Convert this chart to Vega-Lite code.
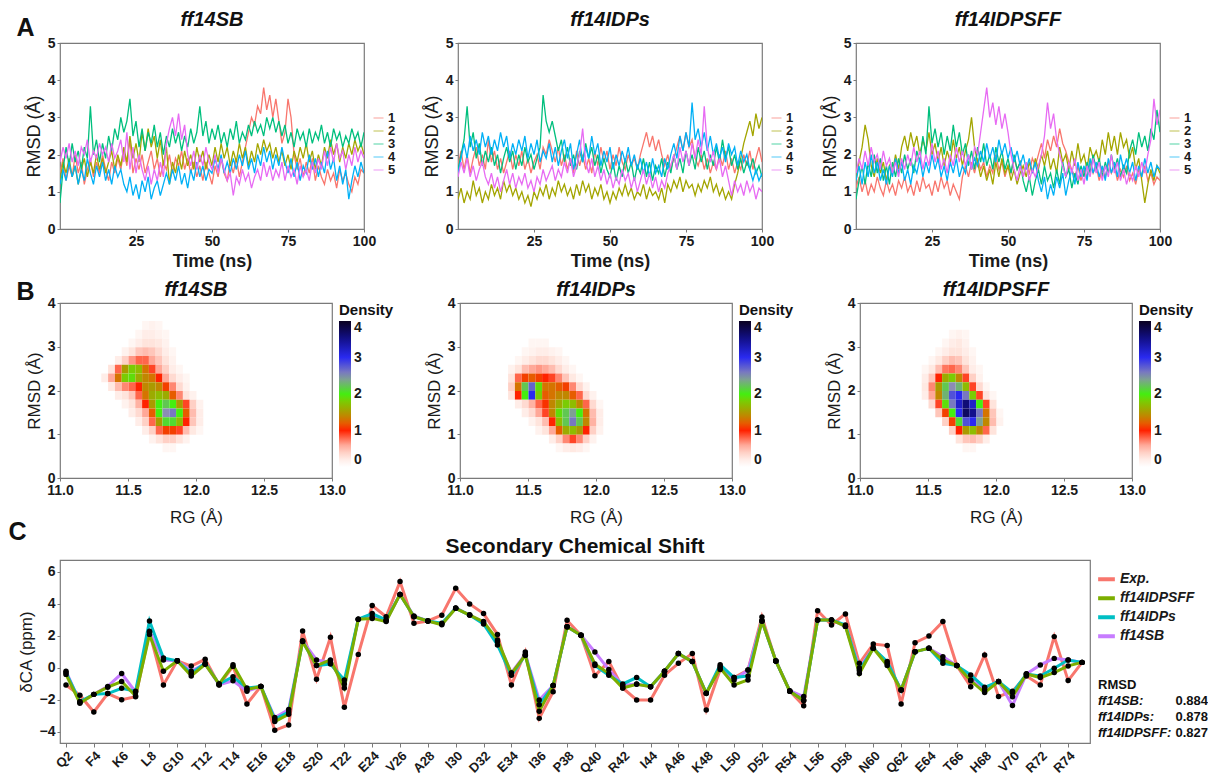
{
"$schema":"https://vega.github.io/schema/vega-lite/v6.json",
"background":"white",
"padding":{"left":8,"top":9,"right":0,"bottom":0},
"config":{
 "font":"Liberation Sans",
 "view":{"stroke":"#7a7a7a","strokeWidth":1.2},
 "axis":{"grid":false,"domain":false,"ticks":true,"tickSize":3,"tickColor":"#7a7a7a","labelFontSize":14,"labelFontWeight":"bold","labelColor":"#1a1a1a","labelPadding":2,"labelFlush":false,"titleFontSize":18,"titleFontWeight":"normal","titleColor":"#1a1a1a","titlePadding":4},
 "title":{"fontSize":20,"fontWeight":"bold","fontStyle":"italic","color":"#111111","offset":6},
 "legend":{"labelColor":"#1a1a1a","titleColor":"#111111"}
},
"datasets":{
"a1":[
{"t":0,"1":1.5,"2":1.3,"3":0.7,"4":1.2,"5":1.8},{"t":1,"1":1.9,"2":1.8,"3":1.6,"4":1.6,"5":2.2},{"t":2,"1":1.3,"2":1.5,"3":2.2,"4":1.3,"5":1.9},{"t":3,"1":1.7,"2":1.9,"3":1.7,"4":1.8,"5":2.3},{"t":4,"1":1.4,"2":1.4,"3":2.3,"4":1.4,"5":1.8},{"t":5,"1":2.0,"2":1.7,"3":1.8,"4":1.7,"5":2.1},{"t":6,"1":1.5,"2":1.2,"3":2.1,"4":1.2,"5":1.7},{"t":7,"1":1.8,"2":1.6,"3":1.6,"4":1.6,"5":2.2},{"t":8,"1":1.2,"2":1.9,"3":2.2,"4":1.3,"5":2.0},{"t":9,"1":1.6,"2":1.4,"3":1.9,"4":1.9,"5":2.4},
{"t":10,"1":1.9,"2":1.8,"3":3.3,"4":1.5,"5":1.8},{"t":11,"1":1.4,"2":1.5,"3":2.0,"4":1.2,"5":2.1},{"t":12,"1":1.8,"2":2.0,"3":2.4,"4":1.7,"5":1.9},{"t":13,"1":1.5,"2":1.6,"3":1.8,"4":1.4,"5":2.3},{"t":14,"1":2.0,"2":1.9,"3":2.3,"4":1.8,"5":2.0},{"t":15,"1":1.6,"2":1.5,"3":1.9,"4":1.3,"5":2.2},{"t":16,"1":1.3,"2":1.8,"3":2.5,"4":1.6,"5":1.8},{"t":17,"1":1.8,"2":2.1,"3":2.1,"4":1.2,"5":2.3},{"t":18,"1":1.5,"2":1.6,"3":2.7,"4":1.7,"5":1.9},{"t":19,"1":1.9,"2":2.0,"3":2.4,"4":1.4,"5":2.1},
{"t":20,"1":1.6,"2":1.7,"3":3.0,"4":1.6,"5":2.4},{"t":21,"1":2.1,"2":2.2,"3":2.6,"4":1.2,"5":1.8},{"t":22,"1":1.7,"2":1.8,"3":2.9,"4":1.0,"5":2.6},{"t":23,"1":2.4,"2":2.5,"3":3.5,"4":1.4,"5":1.6},{"t":24,"1":1.5,"2":1.9,"3":2.5,"4":0.9,"5":2.2},{"t":25,"1":1.9,"2":2.3,"3":2.9,"4":1.2,"5":1.5},{"t":26,"1":1.6,"2":1.8,"3":2.2,"4":0.8,"5":2.0},{"t":27,"1":2.0,"2":2.6,"3":2.7,"4":1.3,"5":1.6},{"t":28,"1":1.5,"2":2.1,"3":2.1,"4":1.0,"5":1.3},{"t":29,"1":1.8,"2":2.7,"3":2.6,"4":1.4,"5":1.7},
{"t":30,"1":2.1,"2":2.2,"3":2.3,"4":0.8,"5":1.2},{"t":31,"1":1.6,"2":2.5,"3":2.8,"4":1.1,"5":1.6},{"t":32,"1":1.9,"2":1.9,"3":2.2,"4":1.3,"5":1.3},{"t":33,"1":1.4,"2":2.4,"3":2.6,"4":0.9,"5":1.8},{"t":34,"1":1.8,"2":1.7,"3":2.0,"4":1.2,"5":1.4},{"t":35,"1":1.6,"2":2.2,"3":2.5,"4":1.5,"5":2.3},{"t":36,"1":2.0,"2":1.2,"3":2.2,"4":1.2,"5":2.7},{"t":37,"1":1.5,"2":1.8,"3":2.7,"4":1.6,"5":3.0},{"t":38,"1":1.9,"2":1.5,"3":2.3,"4":1.3,"5":2.5},{"t":39,"1":1.7,"2":2.0,"3":2.6,"4":1.7,"5":3.1},
{"t":40,"1":2.1,"2":1.6,"3":2.1,"4":1.2,"5":2.4},{"t":41,"1":1.6,"2":2.1,"3":2.5,"4":1.5,"5":2.8},{"t":42,"1":1.9,"2":1.7,"3":2.2,"4":1.1,"5":2.0},{"t":43,"1":1.5,"2":2.0,"3":2.7,"4":1.6,"5":1.7},{"t":44,"1":1.8,"2":1.6,"3":2.3,"4":1.3,"5":2.1},{"t":45,"1":1.4,"2":2.2,"3":2.6,"4":1.8,"5":1.6},{"t":46,"1":1.7,"2":1.8,"3":3.3,"4":1.4,"5":2.0},{"t":47,"1":1.3,"2":2.1,"3":2.5,"4":1.7,"5":1.7},{"t":48,"1":1.8,"2":1.6,"3":2.9,"4":1.3,"5":2.2},{"t":49,"1":1.5,"2":2.0,"3":2.3,"4":1.6,"5":1.8},
{"t":50,"1":1.2,"2":1.7,"3":2.7,"4":1.5,"5":1.6},{"t":51,"1":1.7,"2":2.2,"3":2.4,"4":1.9,"5":2.0},{"t":52,"1":1.4,"2":1.8,"3":2.8,"4":1.6,"5":1.5},{"t":53,"1":1.9,"2":2.3,"3":2.3,"4":2.0,"5":1.9},{"t":54,"1":1.5,"2":1.9,"3":2.6,"4":1.5,"5":1.6},{"t":55,"1":1.3,"2":2.2,"3":2.2,"4":1.8,"5":1.3},{"t":56,"1":1.8,"2":1.7,"3":2.7,"4":1.5,"5":1.5},{"t":57,"1":1.5,"2":2.1,"3":2.4,"4":1.9,"5":0.9},{"t":58,"1":1.9,"2":1.8,"3":2.9,"4":1.6,"5":1.4},{"t":59,"1":1.4,"2":2.3,"3":2.3,"4":2.0,"5":1.2},
{"t":60,"1":1.8,"2":1.9,"3":2.6,"4":1.7,"5":1.6},{"t":61,"1":2.2,"2":2.2,"3":2.4,"4":2.1,"5":1.3},{"t":62,"1":2.6,"2":1.7,"3":2.8,"4":1.6,"5":1.5},{"t":63,"1":3.0,"2":2.1,"3":2.5,"4":1.9,"5":1.1},{"t":64,"1":2.8,"2":1.8,"3":2.9,"4":1.5,"5":1.4},{"t":65,"1":3.3,"2":2.3,"3":2.6,"4":2.0,"5":1.6},{"t":66,"1":3.1,"2":2.0,"3":2.8,"4":1.7,"5":1.3},{"t":67,"1":3.8,"2":2.4,"3":2.5,"4":2.2,"5":1.8},{"t":68,"1":3.2,"2":2.1,"3":3.0,"4":1.8,"5":1.4},{"t":69,"1":3.6,"2":2.3,"3":2.7,"4":2.1,"5":1.7},
{"t":70,"1":3.0,"2":1.9,"3":3.0,"4":1.6,"5":1.3},{"t":71,"1":3.5,"2":2.2,"3":2.6,"4":2.0,"5":1.6},{"t":72,"1":2.9,"2":1.8,"3":2.9,"4":1.7,"5":1.4},{"t":73,"1":2.3,"2":2.1,"3":2.5,"4":2.2,"5":1.8},{"t":74,"1":2.6,"2":1.7,"3":2.8,"4":1.8,"5":1.3},{"t":75,"1":3.5,"2":2.0,"3":2.3,"4":1.5,"5":1.7},{"t":76,"1":3.0,"2":1.6,"3":2.6,"4":1.9,"5":1.4},{"t":77,"1":2.0,"2":2.1,"3":2.2,"4":1.4,"5":1.6},{"t":78,"1":1.6,"2":1.8,"3":2.7,"4":1.8,"5":1.2},{"t":79,"1":1.9,"2":2.2,"3":2.4,"4":1.3,"5":1.7},
{"t":80,"1":1.4,"2":1.9,"3":2.6,"4":1.7,"5":1.4},{"t":81,"1":1.8,"2":2.3,"3":2.2,"4":1.5,"5":1.6},{"t":82,"1":1.5,"2":1.8,"3":2.7,"4":2.0,"5":1.3},{"t":83,"1":1.9,"2":2.1,"3":2.3,"4":1.6,"5":1.8},{"t":84,"1":1.3,"2":1.6,"3":2.6,"4":1.9,"5":1.5},{"t":85,"1":1.7,"2":2.0,"3":2.4,"4":1.4,"5":1.9},{"t":86,"1":1.4,"2":1.7,"3":2.8,"4":1.8,"5":1.6},{"t":87,"1":1.2,"2":2.2,"3":2.3,"4":1.5,"5":2.1},{"t":88,"1":1.6,"2":1.9,"3":2.6,"4":2.1,"5":1.7},{"t":89,"1":1.3,"2":2.4,"3":2.2,"4":1.6,"5":2.2},
{"t":90,"1":1.5,"2":2.0,"3":2.7,"4":1.9,"5":1.8},{"t":91,"1":1.1,"2":2.3,"3":2.4,"4":1.3,"5":2.3},{"t":92,"1":1.6,"2":1.8,"3":2.6,"4":1.7,"5":1.9},{"t":93,"1":1.3,"2":2.2,"3":2.2,"4":1.2,"5":2.1},{"t":94,"1":1.5,"2":1.9,"3":2.5,"4":1.6,"5":1.6},{"t":95,"1":1.2,"2":2.3,"3":2.3,"4":0.8,"5":2.0},{"t":96,"1":1.0,"2":2.0,"3":2.7,"4":1.3,"5":1.7},{"t":97,"1":1.4,"2":2.4,"3":2.4,"4":1.7,"5":2.2},{"t":98,"1":1.2,"2":2.1,"3":2.6,"4":1.4,"5":1.8},{"t":99,"1":1.6,"2":2.3,"3":2.2,"4":1.8,"5":2.1},{"t":100,"1":1.5,"2":2.0,"3":2.6,"4":1.5,"5":1.9}
],
"a2":[
{"t":0,"1":1.7,"2":0.8,"3":1.6,"4":1.5,"5":1.4},{"t":1,"1":2.1,"2":1.1,"3":2.0,"4":1.9,"5":1.8},{"t":2,"1":1.6,"2":0.7,"3":2.4,"4":2.3,"5":1.5},{"t":3,"1":2.0,"2":1.0,"3":3.3,"4":1.9,"5":1.9},{"t":4,"1":1.5,"2":0.8,"3":2.2,"4":2.5,"5":1.4},{"t":5,"1":1.9,"2":1.3,"3":2.6,"4":2.1,"5":1.7},{"t":6,"1":2.2,"2":0.9,"3":1.9,"4":2.4,"5":1.3},{"t":7,"1":1.7,"2":1.1,"3":2.3,"4":2.0,"5":1.6},{"t":8,"1":2.0,"2":0.7,"3":1.7,"4":2.6,"5":1.8},{"t":9,"1":1.6,"2":1.0,"3":2.1,"4":2.2,"5":1.4},
{"t":10,"1":2.4,"2":0.8,"3":1.8,"4":2.5,"5":1.2},{"t":11,"1":1.8,"2":1.2,"3":2.2,"4":2.0,"5":1.5},{"t":12,"1":2.1,"2":0.9,"3":1.7,"4":2.4,"5":1.1},{"t":13,"1":1.6,"2":1.1,"3":2.0,"4":2.1,"5":1.4},{"t":14,"1":1.9,"2":0.8,"3":1.5,"4":2.6,"5":1.0},{"t":15,"1":1.5,"2":1.3,"3":1.9,"4":2.2,"5":1.3},{"t":16,"1":1.8,"2":1.0,"3":2.2,"4":2.5,"5":1.6},{"t":17,"1":2.1,"2":1.2,"3":1.8,"4":1.9,"5":1.2},{"t":18,"1":1.6,"2":0.9,"3":2.1,"4":2.3,"5":1.5},{"t":19,"1":2.0,"2":1.1,"3":1.6,"4":2.0,"5":1.1},
{"t":20,"1":1.7,"2":0.8,"3":2.0,"4":2.4,"5":1.4},{"t":21,"1":2.1,"2":1.0,"3":1.7,"4":2.1,"5":1.2},{"t":22,"1":1.6,"2":0.7,"3":2.2,"4":2.5,"5":1.5},{"t":23,"1":1.9,"2":0.9,"3":1.8,"4":1.9,"5":1.1},{"t":24,"1":1.5,"2":0.6,"3":2.0,"4":2.3,"5":1.3},{"t":25,"1":1.8,"2":1.0,"3":1.6,"4":2.0,"5":1.0},{"t":26,"1":2.0,"2":0.8,"3":1.9,"4":2.4,"5":1.4},{"t":27,"1":1.6,"2":1.1,"3":2.2,"4":1.8,"5":1.2},{"t":28,"1":2.2,"2":0.9,"3":3.6,"4":2.1,"5":1.6},{"t":29,"1":2.0,"2":1.2,"3":2.9,"4":1.9,"5":1.3},
{"t":30,"1":2.4,"2":0.8,"3":2.6,"4":2.3,"5":1.5},{"t":31,"1":2.1,"2":1.1,"3":2.9,"4":1.8,"5":1.7},{"t":32,"1":1.8,"2":0.9,"3":2.5,"4":2.2,"5":1.3},{"t":33,"1":2.2,"2":1.3,"3":2.1,"4":1.7,"5":1.6},{"t":34,"1":1.7,"2":1.0,"3":2.4,"4":2.1,"5":1.4},{"t":35,"1":2.0,"2":1.2,"3":1.8,"4":2.4,"5":1.8},{"t":36,"1":1.6,"2":0.9,"3":2.2,"4":1.9,"5":1.5},{"t":37,"1":1.9,"2":1.1,"3":1.7,"4":2.3,"5":1.9},{"t":38,"1":1.5,"2":0.8,"3":2.0,"4":1.6,"5":1.4},{"t":39,"1":2.1,"2":1.2,"3":1.6,"4":2.0,"5":1.7},
{"t":40,"1":1.7,"2":0.9,"3":2.1,"4":2.4,"5":2.0},{"t":41,"1":2.0,"2":1.3,"3":1.8,"4":1.8,"5":2.7},{"t":42,"1":1.6,"2":1.0,"3":2.3,"4":2.2,"5":1.8},{"t":43,"1":1.9,"2":1.2,"3":1.9,"4":1.9,"5":1.5},{"t":44,"1":1.5,"2":0.8,"3":2.2,"4":2.5,"5":1.9},{"t":45,"1":2.1,"2":1.1,"3":1.7,"4":2.0,"5":1.4},{"t":46,"1":1.7,"2":0.9,"3":2.0,"4":2.3,"5":1.7},{"t":47,"1":2.2,"2":1.2,"3":1.5,"4":1.7,"5":1.3},{"t":48,"1":1.8,"2":0.8,"3":1.9,"4":2.1,"5":1.6},{"t":49,"1":2.1,"2":1.0,"3":1.6,"4":1.8,"5":1.2},
{"t":50,"1":1.6,"2":0.7,"3":1.4,"4":2.2,"5":1.5},{"t":51,"1":2.0,"2":1.0,"3":1.8,"4":1.6,"5":1.1},{"t":52,"1":1.7,"2":0.8,"3":1.3,"4":2.0,"5":1.4},{"t":53,"1":2.2,"2":1.1,"3":1.7,"4":1.7,"5":1.2},{"t":54,"1":1.8,"2":0.9,"3":1.4,"4":2.1,"5":1.6},{"t":55,"1":1.6,"2":1.2,"3":1.9,"4":1.8,"5":1.3},{"t":56,"1":2.0,"2":0.9,"3":1.5,"4":2.2,"5":1.5},{"t":57,"1":1.7,"2":1.1,"3":1.8,"4":1.7,"5":1.1},{"t":58,"1":1.9,"2":0.8,"3":1.3,"4":2.0,"5":1.4},{"t":59,"1":1.6,"2":1.0,"3":1.7,"4":1.6,"5":1.0},
{"t":60,"1":2.0,"2":0.9,"3":1.5,"4":1.9,"5":1.3},{"t":61,"1":2.3,"2":1.2,"3":1.9,"4":1.5,"5":1.6},{"t":62,"1":2.6,"2":0.8,"3":1.4,"4":1.8,"5":1.2},{"t":63,"1":2.2,"2":1.1,"3":1.8,"4":1.4,"5":1.5},{"t":64,"1":2.5,"2":0.9,"3":1.3,"4":1.9,"5":1.1},{"t":65,"1":2.1,"2":1.0,"3":1.7,"4":1.5,"5":1.4},{"t":66,"1":2.4,"2":0.8,"3":1.5,"4":1.7,"5":1.0},{"t":67,"1":2.0,"2":1.1,"3":1.9,"4":1.4,"5":1.3},{"t":68,"1":1.7,"2":0.7,"3":1.4,"4":1.9,"5":1.1},{"t":69,"1":2.0,"2":1.2,"3":1.8,"4":1.6,"5":1.5},
{"t":70,"1":1.6,"2":1.0,"3":1.5,"4":2.0,"5":1.7},{"t":71,"1":1.9,"2":1.3,"3":2.0,"4":2.3,"5":2.0},{"t":72,"1":2.2,"2":1.1,"3":1.6,"4":1.9,"5":1.6},{"t":73,"1":2.5,"2":1.4,"3":1.9,"4":2.5,"5":2.2},{"t":74,"1":2.1,"2":1.0,"3":1.5,"4":2.1,"5":1.8},{"t":75,"1":2.6,"2":1.3,"3":2.1,"4":2.6,"5":2.1},{"t":76,"1":2.2,"2":1.1,"3":1.7,"4":2.2,"5":1.7},{"t":77,"1":2.4,"2":1.2,"3":2.0,"4":3.4,"5":2.3},{"t":78,"1":1.9,"2":0.9,"3":1.6,"4":2.4,"5":1.9},{"t":79,"1":1.7,"2":1.2,"3":2.2,"4":2.7,"5":2.4},
{"t":80,"1":2.0,"2":1.0,"3":1.8,"4":2.2,"5":2.0},{"t":81,"1":1.6,"2":1.3,"3":2.1,"4":2.6,"5":3.3},{"t":82,"1":1.9,"2":1.1,"3":1.6,"4":2.1,"5":2.2},{"t":83,"1":1.5,"2":1.4,"3":2.0,"4":2.5,"5":1.8},{"t":84,"1":1.8,"2":1.0,"3":1.7,"4":2.0,"5":2.1},{"t":85,"1":1.6,"2":1.2,"3":2.2,"4":2.3,"5":1.6},{"t":86,"1":2.0,"2":0.9,"3":1.8,"4":1.9,"5":1.9},{"t":87,"1":1.7,"2":1.1,"3":2.4,"4":2.2,"5":1.4},{"t":88,"1":2.1,"2":0.8,"3":1.9,"4":1.8,"5":1.7},{"t":89,"1":1.6,"2":1.0,"3":2.2,"4":2.3,"5":1.3},
{"t":90,"1":1.9,"2":0.8,"3":1.7,"4":2.0,"5":0.9},{"t":91,"1":1.5,"2":1.2,"3":2.0,"4":2.2,"5":1.3},{"t":92,"1":1.8,"2":1.5,"3":1.6,"4":1.7,"5":1.0},{"t":93,"1":1.6,"2":1.9,"3":1.9,"4":2.1,"5":1.2},{"t":94,"1":2.0,"2":2.3,"3":1.5,"4":1.8,"5":0.9},{"t":95,"1":1.7,"2":2.6,"3":1.8,"4":2.0,"5":1.3},{"t":96,"1":2.1,"2":2.9,"3":1.6,"4":1.6,"5":1.0},{"t":97,"1":1.6,"2":2.5,"3":1.9,"4":1.3,"5":1.2},{"t":98,"1":1.9,"2":3.1,"3":1.5,"4":1.6,"5":0.8},{"t":99,"1":2.2,"2":2.7,"3":1.7,"4":1.3,"5":1.1},{"t":100,"1":1.8,"2":3.0,"3":1.4,"4":1.5,"5":1.0}
],
"a3":[
{"t":0,"1":1.1,"2":1.3,"3":0.8,"4":1.3,"5":1.5},{"t":1,"1":1.4,"2":1.8,"3":1.3,"4":1.7,"5":1.9},{"t":2,"1":1.0,"2":2.2,"3":1.7,"4":1.2,"5":1.6},{"t":3,"1":1.3,"2":2.8,"3":1.2,"4":1.8,"5":2.1},{"t":4,"1":0.9,"2":2.4,"3":1.8,"4":1.4,"5":1.7},{"t":5,"1":1.2,"2":1.7,"3":1.4,"4":2.0,"5":2.2},{"t":6,"1":1.0,"2":1.4,"3":2.0,"4":1.5,"5":1.8},{"t":7,"1":1.4,"2":1.9,"3":1.5,"4":1.8,"5":2.0},{"t":8,"1":1.1,"2":1.5,"3":1.9,"4":1.3,"5":1.6},{"t":9,"1":0.9,"2":1.8,"3":1.3,"4":1.6,"5":2.1},
{"t":10,"1":1.3,"2":1.3,"3":1.7,"4":1.2,"5":1.7},{"t":11,"1":1.0,"2":1.7,"3":1.2,"4":1.7,"5":1.9},{"t":12,"1":1.2,"2":1.5,"3":1.8,"4":1.4,"5":1.5},{"t":13,"1":0.9,"2":2.0,"3":1.4,"4":1.9,"5":1.8},{"t":14,"1":1.3,"2":1.6,"3":1.9,"4":1.5,"5":1.4},{"t":15,"1":1.1,"2":2.2,"3":1.5,"4":1.8,"5":1.9},{"t":16,"1":1.4,"2":2.5,"3":2.0,"4":1.3,"5":1.6},{"t":17,"1":1.0,"2":2.1,"3":1.6,"4":1.6,"5":2.0},{"t":18,"1":1.2,"2":2.6,"3":1.9,"4":1.2,"5":1.7},{"t":19,"1":0.9,"2":2.2,"3":1.5,"4":1.7,"5":2.2},
{"t":20,"1":1.3,"2":2.5,"3":2.1,"4":1.5,"5":1.8},{"t":21,"1":1.0,"2":2.0,"3":1.8,"4":1.9,"5":2.1},{"t":22,"1":1.4,"2":2.4,"3":2.5,"4":1.4,"5":1.6},{"t":23,"1":1.1,"2":2.1,"3":2.0,"4":1.8,"5":2.0},{"t":24,"1":1.2,"2":2.6,"3":3.3,"4":1.5,"5":1.7},{"t":25,"1":0.9,"2":2.0,"3":2.3,"4":2.0,"5":2.3},{"t":26,"1":1.3,"2":2.3,"3":2.7,"4":1.6,"5":1.8},{"t":27,"1":1.0,"2":1.8,"3":2.2,"4":1.9,"5":2.1},{"t":28,"1":1.4,"2":2.2,"3":2.6,"4":1.4,"5":1.6},{"t":29,"1":1.1,"2":1.7,"3":2.0,"4":1.7,"5":1.9},
{"t":30,"1":1.3,"2":2.1,"3":2.5,"4":1.3,"5":1.5},{"t":31,"1":0.9,"2":1.8,"3":2.1,"4":1.8,"5":2.0},{"t":32,"1":1.2,"2":2.4,"3":2.8,"4":1.5,"5":1.7},{"t":33,"1":1.0,"2":1.9,"3":2.2,"4":1.9,"5":2.2},{"t":34,"1":0.8,"2":2.2,"3":2.6,"4":1.4,"5":1.8},{"t":35,"1":1.4,"2":1.7,"3":2.0,"4":1.7,"5":2.1},{"t":36,"1":1.7,"2":2.1,"3":2.3,"4":1.5,"5":1.7},{"t":37,"1":1.4,"2":2.4,"3":1.7,"4":2.0,"5":2.0},{"t":38,"1":1.8,"2":3.0,"3":2.1,"4":1.6,"5":1.6},{"t":39,"1":1.5,"2":2.2,"3":1.6,"4":1.9,"5":2.2},
{"t":40,"1":1.9,"2":1.8,"3":2.2,"4":1.7,"5":2.0},{"t":41,"1":1.6,"2":1.4,"3":1.8,"4":2.1,"5":2.6},{"t":42,"1":1.8,"2":1.7,"3":2.3,"4":1.8,"5":3.2},{"t":43,"1":1.4,"2":1.3,"3":1.7,"4":2.3,"5":3.8},{"t":44,"1":1.7,"2":1.6,"3":2.0,"4":1.9,"5":3.0},{"t":45,"1":1.5,"2":1.2,"3":1.6,"4":2.2,"5":3.4},{"t":46,"1":2.0,"2":1.8,"3":2.2,"4":1.8,"5":2.8},{"t":47,"1":1.6,"2":1.4,"3":1.8,"4":2.4,"5":3.3},{"t":48,"1":1.8,"2":1.9,"3":2.1,"4":2.0,"5":2.7},{"t":49,"1":1.4,"2":1.5,"3":1.6,"4":2.3,"5":3.1},
{"t":50,"1":1.7,"2":1.7,"3":1.9,"4":1.9,"5":2.6},{"t":51,"1":1.5,"2":1.3,"3":1.5,"4":2.2,"5":2.0},{"t":52,"1":1.9,"2":1.6,"3":2.0,"4":1.8,"5":1.6},{"t":53,"1":1.6,"2":1.2,"3":1.6,"4":2.1,"5":1.3},{"t":54,"1":1.8,"2":1.5,"3":1.8,"4":1.7,"5":1.7},{"t":55,"1":1.4,"2":1.7,"3":1.3,"4":2.0,"5":1.4},{"t":56,"1":1.7,"2":1.4,"3":1.0,"4":1.6,"5":1.8},{"t":57,"1":1.5,"2":1.8,"3":1.4,"4":1.9,"5":1.3},{"t":58,"1":1.9,"2":1.5,"3":0.9,"4":1.5,"5":1.6},{"t":59,"1":1.7,"2":1.9,"3":1.3,"4":1.8,"5":1.4},
{"t":60,"1":2.0,"2":1.6,"3":1.6,"4":1.3,"5":1.7},{"t":61,"1":2.3,"2":2.0,"3":1.2,"4":1.0,"5":2.0},{"t":62,"1":1.9,"2":1.7,"3":1.7,"4":1.4,"5":2.5},{"t":63,"1":2.4,"2":2.1,"3":1.3,"4":0.8,"5":3.4},{"t":64,"1":2.1,"2":1.6,"3":1.5,"4":1.2,"5":2.7},{"t":65,"1":2.5,"2":1.9,"3":1.1,"4":0.9,"5":3.1},{"t":66,"1":2.2,"2":1.5,"3":1.6,"4":1.4,"5":2.4},{"t":67,"1":2.7,"2":2.2,"3":1.2,"4":1.1,"5":2.0},{"t":68,"1":2.3,"2":1.8,"3":1.8,"4":1.5,"5":1.7},{"t":69,"1":2.1,"2":2.0,"3":1.4,"4":0.9,"5":1.4},
{"t":70,"1":1.8,"2":1.6,"3":1.6,"4":1.3,"5":1.8},{"t":71,"1":1.6,"2":2.1,"3":1.1,"4":1.6,"5":1.5},{"t":72,"1":1.4,"2":1.7,"3":1.5,"4":1.2,"5":1.9},{"t":73,"1":1.7,"2":2.3,"3":1.2,"4":1.8,"5":1.3},{"t":74,"1":1.3,"2":1.8,"3":1.7,"4":1.4,"5":1.6},{"t":75,"1":1.6,"2":2.0,"3":1.4,"4":1.7,"5":1.2},{"t":76,"1":1.4,"2":1.6,"3":1.8,"4":1.3,"5":1.7},{"t":77,"1":1.8,"2":2.2,"3":1.5,"4":1.9,"5":1.4},{"t":78,"1":1.5,"2":1.9,"3":2.0,"4":1.5,"5":1.9},{"t":79,"1":1.7,"2":2.1,"3":1.6,"4":1.8,"5":1.5},
{"t":80,"1":1.3,"2":1.8,"3":1.9,"4":1.4,"5":1.8},{"t":81,"1":1.6,"2":2.4,"3":1.4,"4":1.7,"5":1.3},{"t":82,"1":1.4,"2":2.0,"3":1.8,"4":1.3,"5":1.7},{"t":83,"1":1.8,"2":2.6,"3":1.5,"4":1.9,"5":1.4},{"t":84,"1":1.5,"2":2.1,"3":2.0,"4":1.5,"5":2.0},{"t":85,"1":1.7,"2":2.5,"3":1.6,"4":1.8,"5":1.5},{"t":86,"1":1.3,"2":2.0,"3":1.9,"4":1.4,"5":1.8},{"t":87,"1":1.6,"2":2.6,"3":1.4,"4":2.0,"5":1.3},{"t":88,"1":1.4,"2":2.2,"3":1.7,"4":1.6,"5":1.6},{"t":89,"1":1.7,"2":2.4,"3":1.5,"4":1.9,"5":1.2},
{"t":90,"1":1.3,"2":1.9,"3":2.1,"4":1.5,"5":1.5},{"t":91,"1":1.5,"2":2.2,"3":2.4,"4":1.8,"5":1.3},{"t":92,"1":1.2,"2":1.6,"3":2.0,"4":1.3,"5":1.7},{"t":93,"1":1.6,"2":1.9,"3":2.6,"4":1.7,"5":1.4},{"t":94,"1":1.4,"2":1.3,"3":2.2,"4":1.4,"5":1.8},{"t":95,"1":1.7,"2":0.7,"3":2.5,"4":1.9,"5":1.5},{"t":96,"1":1.3,"2":1.2,"3":2.1,"4":1.5,"5":2.0},{"t":97,"1":1.5,"2":1.6,"3":2.7,"4":1.8,"5":2.4},{"t":98,"1":1.2,"2":1.3,"3":2.4,"4":1.4,"5":3.5},{"t":99,"1":1.4,"2":1.7,"3":3.2,"4":1.7,"5":2.8},{"t":100,"1":1.3,"2":1.5,"3":2.6,"4":1.6,"5":3.2}
],
"b1":[
{"x":11.625,"y":3.5,"d":0.1},{"x":11.675,"y":3.5,"d":0.15},{"x":11.725,"y":3.5,"d":0.1},
{"x":11.575,"y":3.3,"d":0.1},{"x":11.625,"y":3.3,"d":0.2},{"x":11.675,"y":3.3,"d":0.2},{"x":11.725,"y":3.3,"d":0.15},{"x":11.775,"y":3.3,"d":0.1},
{"x":11.525,"y":3.1,"d":0.1},{"x":11.575,"y":3.1,"d":0.2},{"x":11.625,"y":3.1,"d":0.3},{"x":11.675,"y":3.1,"d":0.3},{"x":11.725,"y":3.1,"d":0.25},{"x":11.775,"y":3.1,"d":0.15},
{"x":11.475,"y":2.9,"d":0.15},{"x":11.525,"y":2.9,"d":0.3},{"x":11.575,"y":2.9,"d":0.45},{"x":11.625,"y":2.9,"d":0.5},{"x":11.675,"y":2.9,"d":0.45},{"x":11.725,"y":2.9,"d":0.35},{"x":11.775,"y":2.9,"d":0.2},{"x":11.825,"y":2.9,"d":0.1},
{"x":11.425,"y":2.7,"d":0.2},{"x":11.475,"y":2.7,"d":0.4},{"x":11.525,"y":2.7,"d":0.65},{"x":11.575,"y":2.7,"d":0.8},{"x":11.625,"y":2.7,"d":0.8},{"x":11.675,"y":2.7,"d":0.6},{"x":11.725,"y":2.7,"d":0.45},{"x":11.775,"y":2.7,"d":0.3},{"x":11.825,"y":2.7,"d":0.15},
{"x":11.375,"y":2.5,"d":0.3},{"x":11.425,"y":2.5,"d":0.8},{"x":11.475,"y":2.5,"d":1.5},{"x":11.525,"y":2.5,"d":1.8},{"x":11.575,"y":2.5,"d":1.7},{"x":11.625,"y":2.5,"d":1.3},{"x":11.675,"y":2.5,"d":0.9},{"x":11.725,"y":2.5,"d":0.6},{"x":11.775,"y":2.5,"d":0.4},{"x":11.825,"y":2.5,"d":0.2},{"x":11.875,"y":2.5,"d":0.1},
{"x":11.325,"y":2.3,"d":0.2},{"x":11.375,"y":2.3,"d":0.6},{"x":11.425,"y":2.3,"d":1.3},{"x":11.475,"y":2.3,"d":1.8},{"x":11.525,"y":2.3,"d":1.9},{"x":11.575,"y":2.3,"d":1.6},{"x":11.625,"y":2.3,"d":1.4},{"x":11.675,"y":2.3,"d":1.3},{"x":11.725,"y":2.3,"d":1.0},{"x":11.775,"y":2.3,"d":0.6},{"x":11.825,"y":2.3,"d":0.35},{"x":11.875,"y":2.3,"d":0.2},{"x":11.925,"y":2.3,"d":0.1},
{"x":11.375,"y":2.1,"d":0.25},{"x":11.425,"y":2.1,"d":0.5},{"x":11.475,"y":2.1,"d":0.7},{"x":11.525,"y":2.1,"d":0.8},{"x":11.575,"y":2.1,"d":1.0},{"x":11.625,"y":2.1,"d":1.4},{"x":11.675,"y":2.1,"d":1.5},{"x":11.725,"y":2.1,"d":1.4},{"x":11.775,"y":2.1,"d":1.1},{"x":11.825,"y":2.1,"d":0.7},{"x":11.875,"y":2.1,"d":0.35},{"x":11.925,"y":2.1,"d":0.15},
{"x":11.425,"y":1.9,"d":0.2},{"x":11.475,"y":1.9,"d":0.3},{"x":11.525,"y":1.9,"d":0.45},{"x":11.575,"y":1.9,"d":0.8},{"x":11.625,"y":1.9,"d":1.3},{"x":11.675,"y":1.9,"d":1.6},{"x":11.725,"y":1.9,"d":1.7},{"x":11.775,"y":1.9,"d":1.6},{"x":11.825,"y":1.9,"d":1.2},{"x":11.875,"y":1.9,"d":0.7},{"x":11.925,"y":1.9,"d":0.3},{"x":11.975,"y":1.9,"d":0.15},
{"x":11.475,"y":1.7,"d":0.15},{"x":11.525,"y":1.7,"d":0.3},{"x":11.575,"y":1.7,"d":0.55},{"x":11.625,"y":1.7,"d":1.0},{"x":11.675,"y":1.7,"d":1.5},{"x":11.725,"y":1.7,"d":2.0},{"x":11.775,"y":1.7,"d":2.2},{"x":11.825,"y":1.7,"d":2.0},{"x":11.875,"y":1.7,"d":1.5},{"x":11.925,"y":1.7,"d":0.9},{"x":11.975,"y":1.7,"d":0.4},{"x":12.025,"y":1.7,"d":0.15},
{"x":11.525,"y":1.5,"d":0.2},{"x":11.575,"y":1.5,"d":0.35},{"x":11.625,"y":1.5,"d":0.6},{"x":11.675,"y":1.5,"d":1.2},{"x":11.725,"y":1.5,"d":2.0},{"x":11.775,"y":1.5,"d":2.5},{"x":11.825,"y":1.5,"d":2.6},{"x":11.875,"y":1.5,"d":2.0},{"x":11.925,"y":1.5,"d":1.2},{"x":11.975,"y":1.5,"d":0.5},{"x":12.025,"y":1.5,"d":0.2},
{"x":11.575,"y":1.3,"d":0.2},{"x":11.625,"y":1.3,"d":0.4},{"x":11.675,"y":1.3,"d":0.8},{"x":11.725,"y":1.3,"d":1.5},{"x":11.775,"y":1.3,"d":2.1},{"x":11.825,"y":1.3,"d":2.1},{"x":11.875,"y":1.3,"d":1.7},{"x":11.925,"y":1.3,"d":1.0},{"x":11.975,"y":1.3,"d":0.45},{"x":12.025,"y":1.3,"d":0.2},
{"x":11.625,"y":1.1,"d":0.2},{"x":11.675,"y":1.1,"d":0.4},{"x":11.725,"y":1.1,"d":0.8},{"x":11.775,"y":1.1,"d":1.1},{"x":11.825,"y":1.1,"d":1.1},{"x":11.875,"y":1.1,"d":0.9},{"x":11.925,"y":1.1,"d":0.5},{"x":11.975,"y":1.1,"d":0.25},{"x":12.025,"y":1.1,"d":0.1},
{"x":11.675,"y":0.9,"d":0.15},{"x":11.725,"y":0.9,"d":0.3},{"x":11.775,"y":0.9,"d":0.4},{"x":11.825,"y":0.9,"d":0.4},{"x":11.875,"y":0.9,"d":0.3},{"x":11.925,"y":0.9,"d":0.15},
{"x":11.775,"y":0.7,"d":0.1},{"x":11.825,"y":0.7,"d":0.1}
],
"b2":[
{"x":11.525,"y":3.1,"d":0.1},{"x":11.575,"y":3.1,"d":0.1},{"x":11.625,"y":3.1,"d":0.1},
{"x":11.475,"y":2.9,"d":0.1},{"x":11.525,"y":2.9,"d":0.15},{"x":11.575,"y":2.9,"d":0.2},{"x":11.625,"y":2.9,"d":0.2},{"x":11.675,"y":2.9,"d":0.15},{"x":11.725,"y":2.9,"d":0.1},
{"x":11.425,"y":2.7,"d":0.1},{"x":11.475,"y":2.7,"d":0.2},{"x":11.525,"y":2.7,"d":0.3},{"x":11.575,"y":2.7,"d":0.35},{"x":11.625,"y":2.7,"d":0.35},{"x":11.675,"y":2.7,"d":0.3},{"x":11.725,"y":2.7,"d":0.2},{"x":11.775,"y":2.7,"d":0.1},
{"x":11.375,"y":2.5,"d":0.15},{"x":11.425,"y":2.5,"d":0.3},{"x":11.475,"y":2.5,"d":0.5},{"x":11.525,"y":2.5,"d":0.6},{"x":11.575,"y":2.5,"d":0.65},{"x":11.625,"y":2.5,"d":0.6},{"x":11.675,"y":2.5,"d":0.5},{"x":11.725,"y":2.5,"d":0.35},{"x":11.775,"y":2.5,"d":0.2},{"x":11.825,"y":2.5,"d":0.1},
{"x":11.375,"y":2.3,"d":0.3},{"x":11.425,"y":2.3,"d":0.8},{"x":11.475,"y":2.3,"d":1.1},{"x":11.525,"y":2.3,"d":1.2},{"x":11.575,"y":2.3,"d":1.1},{"x":11.625,"y":2.3,"d":1.0},{"x":11.675,"y":2.3,"d":0.9},{"x":11.725,"y":2.3,"d":0.7},{"x":11.775,"y":2.3,"d":0.45},{"x":11.825,"y":2.3,"d":0.25},{"x":11.875,"y":2.3,"d":0.1},
{"x":11.375,"y":2.1,"d":0.4},{"x":11.425,"y":2.1,"d":1.3},{"x":11.475,"y":2.1,"d":2.2},{"x":11.525,"y":2.1,"d":2.7},{"x":11.575,"y":2.1,"d":1.9},{"x":11.625,"y":2.1,"d":1.3},{"x":11.675,"y":2.1,"d":1.3},{"x":11.725,"y":2.1,"d":1.2},{"x":11.775,"y":2.1,"d":1.1},{"x":11.825,"y":2.1,"d":0.7},{"x":11.875,"y":2.1,"d":0.35},{"x":11.925,"y":2.1,"d":0.15},
{"x":11.375,"y":1.9,"d":0.3},{"x":11.425,"y":1.9,"d":1.0},{"x":11.475,"y":1.9,"d":2.0},{"x":11.525,"y":1.9,"d":3.0},{"x":11.575,"y":1.9,"d":1.8},{"x":11.625,"y":1.9,"d":1.2},{"x":11.675,"y":1.9,"d":1.3},{"x":11.725,"y":1.9,"d":1.4},{"x":11.775,"y":1.9,"d":1.4},{"x":11.825,"y":1.9,"d":1.2},{"x":11.875,"y":1.9,"d":0.8},{"x":11.925,"y":1.9,"d":0.35},{"x":11.975,"y":1.9,"d":0.15},
{"x":11.425,"y":1.7,"d":0.2},{"x":11.475,"y":1.7,"d":0.35},{"x":11.525,"y":1.7,"d":0.55},{"x":11.575,"y":1.7,"d":0.8},{"x":11.625,"y":1.7,"d":1.05},{"x":11.675,"y":1.7,"d":1.4},{"x":11.725,"y":1.7,"d":1.6},{"x":11.775,"y":1.7,"d":1.8},{"x":11.825,"y":1.7,"d":1.7},{"x":11.875,"y":1.7,"d":1.4},{"x":11.925,"y":1.7,"d":0.8},{"x":11.975,"y":1.7,"d":0.35},{"x":12.025,"y":1.7,"d":0.1},
{"x":11.475,"y":1.5,"d":0.2},{"x":11.525,"y":1.5,"d":0.35},{"x":11.575,"y":1.5,"d":0.6},{"x":11.625,"y":1.5,"d":0.9},{"x":11.675,"y":1.5,"d":1.4},{"x":11.725,"y":1.5,"d":1.9},{"x":11.775,"y":1.5,"d":2.2},{"x":11.825,"y":1.5,"d":2.4},{"x":11.875,"y":1.5,"d":2.0},{"x":11.925,"y":1.5,"d":1.3},{"x":11.975,"y":1.5,"d":0.5},{"x":12.025,"y":1.5,"d":0.2},
{"x":11.525,"y":1.3,"d":0.15},{"x":11.575,"y":1.3,"d":0.3},{"x":11.625,"y":1.3,"d":0.5},{"x":11.675,"y":1.3,"d":1.0},{"x":11.725,"y":1.3,"d":1.7},{"x":11.775,"y":1.3,"d":2.2},{"x":11.825,"y":1.3,"d":2.6},{"x":11.875,"y":1.3,"d":2.2},{"x":11.925,"y":1.3,"d":1.4},{"x":11.975,"y":1.3,"d":0.55},{"x":12.025,"y":1.3,"d":0.2},
{"x":11.575,"y":1.1,"d":0.15},{"x":11.625,"y":1.1,"d":0.3},{"x":11.675,"y":1.1,"d":0.6},{"x":11.725,"y":1.1,"d":1.2},{"x":11.775,"y":1.1,"d":1.6},{"x":11.825,"y":1.1,"d":1.7},{"x":11.875,"y":1.1,"d":1.5},{"x":11.925,"y":1.1,"d":1.0},{"x":11.975,"y":1.1,"d":0.4},{"x":12.025,"y":1.1,"d":0.15},
{"x":11.675,"y":0.9,"d":0.2},{"x":11.725,"y":0.9,"d":0.4},{"x":11.775,"y":0.9,"d":0.7},{"x":11.825,"y":0.9,"d":0.9},{"x":11.875,"y":0.9,"d":0.7},{"x":11.925,"y":0.9,"d":0.4},{"x":11.975,"y":0.9,"d":0.15},
{"x":11.725,"y":0.7,"d":0.1},{"x":11.775,"y":0.7,"d":0.2},{"x":11.825,"y":0.7,"d":0.25},{"x":11.875,"y":0.7,"d":0.2},{"x":11.925,"y":0.7,"d":0.1}
],
"b3":[
{"x":11.675,"y":3.3,"d":0.1},{"x":11.725,"y":3.3,"d":0.15},{"x":11.775,"y":3.3,"d":0.1},
{"x":11.625,"y":3.1,"d":0.1},{"x":11.675,"y":3.1,"d":0.2},{"x":11.725,"y":3.1,"d":0.25},{"x":11.775,"y":3.1,"d":0.15},
{"x":11.575,"y":2.9,"d":0.1},{"x":11.625,"y":2.9,"d":0.2},{"x":11.675,"y":2.9,"d":0.3},{"x":11.725,"y":2.9,"d":0.3},{"x":11.775,"y":2.9,"d":0.2},{"x":11.825,"y":2.9,"d":0.1},
{"x":11.525,"y":2.7,"d":0.1},{"x":11.575,"y":2.7,"d":0.25},{"x":11.625,"y":2.7,"d":0.4},{"x":11.675,"y":2.7,"d":0.5},{"x":11.725,"y":2.7,"d":0.45},{"x":11.775,"y":2.7,"d":0.3},{"x":11.825,"y":2.7,"d":0.15},
{"x":11.475,"y":2.5,"d":0.1},{"x":11.525,"y":2.5,"d":0.25},{"x":11.575,"y":2.5,"d":0.5},{"x":11.625,"y":2.5,"d":0.75},{"x":11.675,"y":2.5,"d":0.8},{"x":11.725,"y":2.5,"d":0.7},{"x":11.775,"y":2.5,"d":0.45},{"x":11.825,"y":2.5,"d":0.2},{"x":11.875,"y":2.5,"d":0.1},
{"x":11.475,"y":2.3,"d":0.2},{"x":11.525,"y":2.3,"d":0.45},{"x":11.575,"y":2.3,"d":1.0},{"x":11.625,"y":2.3,"d":1.6},{"x":11.675,"y":2.3,"d":1.8},{"x":11.725,"y":2.3,"d":1.4},{"x":11.775,"y":2.3,"d":0.9},{"x":11.825,"y":2.3,"d":0.4},{"x":11.875,"y":2.3,"d":0.15},
{"x":11.475,"y":2.1,"d":0.25},{"x":11.525,"y":2.1,"d":0.7},{"x":11.575,"y":2.1,"d":1.5},{"x":11.625,"y":2.1,"d":2.2},{"x":11.675,"y":2.1,"d":2.5},{"x":11.725,"y":2.1,"d":2.3},{"x":11.775,"y":2.1,"d":1.7},{"x":11.825,"y":2.1,"d":0.9},{"x":11.875,"y":2.1,"d":0.35},{"x":11.925,"y":2.1,"d":0.1},
{"x":11.475,"y":1.9,"d":0.2},{"x":11.525,"y":1.9,"d":0.6},{"x":11.575,"y":1.9,"d":1.4},{"x":11.625,"y":1.9,"d":2.3},{"x":11.675,"y":1.9,"d":2.8},{"x":11.725,"y":1.9,"d":3.0},{"x":11.775,"y":1.9,"d":2.6},{"x":11.825,"y":1.9,"d":1.8},{"x":11.875,"y":1.9,"d":0.9},{"x":11.925,"y":1.9,"d":0.3},{"x":11.975,"y":1.9,"d":0.1},
{"x":11.525,"y":1.7,"d":0.35},{"x":11.575,"y":1.7,"d":0.9},{"x":11.625,"y":1.7,"d":1.9},{"x":11.675,"y":1.7,"d":2.6},{"x":11.725,"y":1.7,"d":3.2},{"x":11.775,"y":1.7,"d":3.6},{"x":11.825,"y":1.7,"d":3.2},{"x":11.875,"y":1.7,"d":2.0},{"x":11.925,"y":1.7,"d":0.9},{"x":11.975,"y":1.7,"d":0.3},
{"x":11.575,"y":1.5,"d":0.45},{"x":11.625,"y":1.5,"d":1.1},{"x":11.675,"y":1.5,"d":2.0},{"x":11.725,"y":1.5,"d":3.0},{"x":11.775,"y":1.5,"d":3.7},{"x":11.825,"y":1.5,"d":3.5},{"x":11.875,"y":1.5,"d":2.6},{"x":11.925,"y":1.5,"d":1.3},{"x":11.975,"y":1.5,"d":0.45},{"x":12.025,"y":1.5,"d":0.1},
{"x":11.625,"y":1.3,"d":0.4},{"x":11.675,"y":1.3,"d":1.1},{"x":11.725,"y":1.3,"d":2.1},{"x":11.775,"y":1.3,"d":2.8},{"x":11.825,"y":1.3,"d":3.0},{"x":11.875,"y":1.3,"d":2.4},{"x":11.925,"y":1.3,"d":1.4},{"x":11.975,"y":1.3,"d":0.5},{"x":12.025,"y":1.3,"d":0.15},
{"x":11.675,"y":1.1,"d":0.4},{"x":11.725,"y":1.1,"d":1.0},{"x":11.775,"y":1.1,"d":1.5},{"x":11.825,"y":1.1,"d":1.7},{"x":11.875,"y":1.1,"d":1.4},{"x":11.925,"y":1.1,"d":0.8},{"x":11.975,"y":1.1,"d":0.3},
{"x":11.725,"y":0.9,"d":0.3},{"x":11.775,"y":0.9,"d":0.45},{"x":11.825,"y":0.9,"d":0.5},{"x":11.875,"y":0.9,"d":0.4},{"x":11.925,"y":0.9,"d":0.2},
{"x":11.775,"y":0.7,"d":0.1},{"x":11.825,"y":0.7,"d":0.1}
],
"cs":[
{"r":2,"e":-1.06,"f":-0.4,"i":-0.3,"b":-0.2},{"r":3,"e":-1.7,"f":-2.2,"i":-2.1,"b":-2.15},{"r":4,"e":-2.75,"f":-1.65,"i":-1.65,"b":-1.65},{"r":5,"e":-1.6,"f":-1.2,"i":-1.6,"b":-1.15},{"r":6,"e":-1.98,"f":-0.85,"i":-1.27,"b":-0.35},{"r":7,"e":-1.8,"f":-1.75,"i":-1.45,"b":-1.5},{"r":8,"e":2.23,"f":2.1,"i":2.94,"b":2.3},{"r":9,"e":-1.06,"f":-0.2,"i":0.62,"b":0.5},{"r":10,"e":0.45,"f":0.45,"i":0.45,"b":0.45},{"r":11,"e":0.12,"f":-0.5,"i":-0.35,"b":-0.2},
{"r":12,"e":0.54,"f":0.23,"i":0.3,"b":0.25},{"r":13,"e":-1.06,"f":-1.0,"i":-1.0,"b":-1.05},{"r":14,"e":0.1,"f":0.2,"i":-0.55,"b":-0.8},{"r":15,"e":-2.25,"f":-1.35,"i":-1.25,"b":-1.45},{"r":16,"e":-1.15,"f":-1.15,"i":-1.15,"b":-1.15},{"r":17,"e":-3.9,"f":-3.35,"i":-3.2,"b":-3.1},{"r":18,"e":-3.56,"f":-2.9,"i":-2.75,"b":-2.6},{"r":19,"e":2.31,"f":1.65,"i":1.65,"b":1.7},{"r":20,"e":-0.7,"f":0.15,"i":0.15,"b":0.5},{"r":21,"e":1.92,"f":0.5,"i":0.25,"b":0.35},
{"r":22,"e":-2.46,"f":-1.25,"i":-0.75,"b":-1.0},{"r":23,"e":0.85,"f":3.05,"i":3.05,"b":3.05},{"r":24,"e":3.9,"f":3.1,"i":3.4,"b":3.2},{"r":25,"e":3.2,"f":2.9,"i":3.0,"b":2.95},{"r":26,"e":5.4,"f":4.6,"i":4.6,"b":4.6},{"r":27,"e":2.79,"f":3.2,"i":3.2,"b":3.25},{"r":28,"e":2.94,"f":2.94,"i":2.94,"b":2.94},{"r":29,"e":3.3,"f":2.7,"i":2.8,"b":2.75},{"r":30,"e":4.98,"f":3.73,"i":3.73,"b":3.75},{"r":31,"e":4.0,"f":3.31,"i":3.31,"b":3.31},
{"r":32,"e":3.4,"f":2.9,"i":2.75,"b":2.85},{"r":33,"e":2.1,"f":1.75,"i":1.44,"b":1.65},{"r":34,"e":-1.06,"f":-0.35,"i":-0.45,"b":-0.3},{"r":35,"e":1.0,"f":0.8,"i":0.8,"b":0.85},{"r":36,"e":-3.15,"f":-2.7,"i":-2.3,"b":-2.0},{"r":37,"e":-1.48,"f":-1.1,"i":-1.1,"b":-1.1},{"r":38,"e":2.98,"f":2.58,"i":2.58,"b":2.58},{"r":39,"e":2.05,"f":2.05,"i":2.05,"b":2.05},{"r":40,"e":-0.48,"f":0.25,"i":0.15,"b":1.0},{"r":41,"e":0.4,"f":-0.35,"i":-0.45,"b":-0.1},
{"r":42,"e":-1.25,"f":-1.25,"i":-1.0,"b":-1.1},{"r":43,"e":-2.0,"f":-1.02,"i":-0.6,"b":-1.0},{"r":44,"e":-2.0,"f":-1.17,"i":-1.17,"b":-1.17},{"r":45,"e":-0.45,"f":-0.2,"i":-0.2,"b":-0.2},{"r":46,"e":0.29,"f":0.9,"i":0.9,"b":0.9},{"r":47,"e":0.9,"f":0.4,"i":0.4,"b":0.4},{"r":48,"e":-2.63,"f":-1.58,"i":-1.58,"b":-1.58},{"r":49,"e":-0.1,"f":0.0,"i":0.2,"b":0.1},{"r":50,"e":-0.6,"f":-1.06,"i":-0.6,"b":-0.75},{"r":51,"e":-0.13,"f":-0.75,"i":-0.5,"b":-0.13},
{"r":52,"e":3.19,"f":2.94,"i":2.94,"b":2.94},{"r":53,"e":0.44,"f":0.44,"i":0.44,"b":0.44},{"r":54,"e":-1.45,"f":-1.45,"i":-1.45,"b":-1.42},{"r":55,"e":-2.36,"f":-2.04,"i":-2.04,"b":-1.79},{"r":56,"e":3.58,"f":3.0,"i":3.0,"b":3.0},{"r":57,"e":2.69,"f":3.0,"i":3.0,"b":3.0},{"r":58,"e":3.38,"f":2.6,"i":2.69,"b":2.6},{"r":59,"e":0.29,"f":-0.35,"i":-0.15,"b":0.0},{"r":60,"e":1.5,"f":1.23,"i":1.23,"b":1.23},{"r":61,"e":1.4,"f":0.15,"i":0.4,"b":0.3},
{"r":62,"e":-2.25,"f":-1.38,"i":-1.38,"b":-1.38},{"r":63,"e":1.58,"f":1.02,"i":1.02,"b":1.02},{"r":64,"e":2.0,"f":1.23,"i":1.23,"b":1.23},{"r":65,"e":2.9,"f":0.5,"i":0.29,"b":0.71},{"r":66,"e":0.15,"f":0.15,"i":0.15,"b":0.15},{"r":67,"e":-1.17,"f":-0.8,"i":-0.44,"b":-0.75},{"r":68,"e":0.81,"f":-1.54,"i":-1.21,"b":-1.35},{"r":69,"e":-1.79,"f":-0.85,"i":-0.85,"b":-0.85},{"r":70,"e":-1.45,"f":-1.8,"i":-1.55,"b":-2.35},{"r":71,"e":-0.5,"f":-0.38,"i":-0.38,"b":-0.38},
{"r":72,"e":-1.06,"f":-0.6,"i":-0.5,"b":0.19},{"r":73,"e":1.96,"f":-0.29,"i":-0.02,"b":0.6},{"r":74,"e":-0.79,"f":0.13,"i":0.5,"b":0.5},{"r":75,"e":0.35,"f":0.35,"i":0.35,"b":0.35}
],
"rm":[{"m":"RMSD","v":""},{"m":"ff14SB:","v":"0.884"},{"m":"ff14IDPs:","v":"0.878"},{"m":"ff14IDPSFF:","v":"0.827"}]
},
"spacing":-6,
"resolve":{"scale":{"color":"independent"},"legend":{"color":"independent"}},
"vconcat":[
{
"spacing":8,
"resolve":{"scale":{"color":"independent"},"legend":{"color":"independent"}},
"vconcat":[
{
 "title":{"text":"A","anchor":"start","fontSize":25,"fontStyle":"normal","offset":-32,"dx":-8},
 "spacing":25,
 "resolve":{"scale":{"color":"independent"},"legend":{"color":"independent"}},
 "hconcat":[
  {"title":"ff14SB","width":304,"height":186,"data":{"name":"a1"},
   "transform":[{"fold":["1","2","3","4","5"],"as":["s","v"]}],
   "mark":{"type":"line","strokeWidth":1.3,"clip":true},
   "encoding":{
    "x":{"field":"t","type":"quantitative","scale":{"domain":[0,100],"nice":false},"axis":{"values":[25,50,75,100],"title":"Time (ns)","titleFontWeight":"bold"}},
    "y":{"field":"v","type":"quantitative","scale":{"domain":[0,5],"nice":false},"axis":{"values":[0,1,2,3,4,5],"title":"RMSD (Å)"}},
    "color":{"field":"s","type":"nominal","scale":{"domain":["1","2","3","4","5"],"range":["#F8766D","#A3A500","#00BF7D","#00B0F6","#E76BF3"]},"legend":{"title":null,"orient":"none","legendX":312,"legendY":69,"symbolType":"stroke","symbolSize":100,"symbolStrokeWidth":1.5,"symbolOpacity":0.45,"labelFontSize":13,"labelFontWeight":"bold","rowPadding":-0.5,"clipHeight":12,"labelOffset":3}}
   }},
  {"title":"ff14IDPs","width":304,"height":186,"data":{"name":"a2"},
   "transform":[{"fold":["1","2","3","4","5"],"as":["s","v"]}],
   "mark":{"type":"line","strokeWidth":1.3,"clip":true},
   "encoding":{
    "x":{"field":"t","type":"quantitative","scale":{"domain":[0,100],"nice":false},"axis":{"values":[25,50,75,100],"title":"Time (ns)","titleFontWeight":"bold"}},
    "y":{"field":"v","type":"quantitative","scale":{"domain":[0,5],"nice":false},"axis":{"values":[0,1,2,3,4,5],"title":"RMSD (Å)"}},
    "color":{"field":"s","type":"nominal","scale":{"domain":["1","2","3","4","5"],"range":["#F8766D","#A3A500","#00BF7D","#00B0F6","#E76BF3"]},"legend":{"title":null,"orient":"none","legendX":312,"legendY":69,"symbolType":"stroke","symbolSize":100,"symbolStrokeWidth":1.5,"symbolOpacity":0.45,"labelFontSize":13,"labelFontWeight":"bold","rowPadding":-0.5,"clipHeight":12,"labelOffset":3}}
   }},
  {"title":"ff14IDPSFF","width":304,"height":186,"data":{"name":"a3"},
   "transform":[{"fold":["1","2","3","4","5"],"as":["s","v"]}],
   "mark":{"type":"line","strokeWidth":1.3,"clip":true},
   "encoding":{
    "x":{"field":"t","type":"quantitative","scale":{"domain":[0,100],"nice":false},"axis":{"values":[25,50,75,100],"title":"Time (ns)","titleFontWeight":"bold"}},
    "y":{"field":"v","type":"quantitative","scale":{"domain":[0,5],"nice":false},"axis":{"values":[0,1,2,3,4,5],"title":"RMSD (Å)"}},
    "color":{"field":"s","type":"nominal","scale":{"domain":["1","2","3","4","5"],"range":["#F8766D","#A3A500","#00BF7D","#00B0F6","#E76BF3"]},"legend":{"title":null,"orient":"none","legendX":312,"legendY":69,"symbolType":"stroke","symbolSize":100,"symbolStrokeWidth":1.5,"symbolOpacity":0.45,"labelFontSize":13,"labelFontWeight":"bold","rowPadding":-0.5,"clipHeight":12,"labelOffset":3}}
   }}
 ]
},
{
 "title":{"text":"B","anchor":"start","fontSize":25,"fontStyle":"normal","offset":-26,"dx":-8},
 "spacing":29,
 "resolve":{"scale":{"color":"independent"},"legend":{"color":"independent"}},
 "hconcat":[
  {"title":{"text":"ff14SB","offset":-4},"width":272,"height":175,"data":{"name":"b1"},
   "mark":{"type":"rect"},
   "encoding":{
    "x":{"field":"x","type":"quantitative","bin":{"step":0.05,"extent":[11,13]},"scale":{"domain":[11,13],"nice":false,"zero":false},"axis":{"values":[11,11.5,12,12.5,13],"format":".1f","title":"RG (Å)","titleFontSize":17,"titlePadding":12}},
    "y":{"field":"y","type":"quantitative","bin":{"step":0.2,"extent":[0,4]},"scale":{"domain":[0,4],"nice":false},"axis":{"values":[0,1,2,3,4],"format":"d","title":"RMSD (Å)","titleFontSize":17}},
    "color":{"field":"d","type":"quantitative","scale":{"domain":[0,0.3,0.6,0.85,1,1.25,1.5,1.75,2,2.5,3,3.5,4],"range":["#FFFFFF","#FFE4DC","#FFA898","#FF5538","#FF2200","#E06A00","#AA9A00","#88C400","#44EE10","#8C8CB4","#2A2AF0","#12108C","#0A0020"],"interpolate":"rgb","clamp":true},"legend":{"title":"Density","orient":"right","offset":7,"gradientLength":146,"gradientThickness":12,"titleFontSize":15,"titleFontWeight":"bold","labelFontSize":14,"labelFontWeight":"bold","values":[0,1,2,3,4],"titlePadding":3,"labelOffset":3,"gradientStrokeWidth":0}}
   }},
  {"title":{"text":"ff14IDPs","offset":-4},"width":272,"height":175,"data":{"name":"b2"},
   "mark":{"type":"rect"},
   "encoding":{
    "x":{"field":"x","type":"quantitative","bin":{"step":0.05,"extent":[11,13]},"scale":{"domain":[11,13],"nice":false,"zero":false},"axis":{"values":[11,11.5,12,12.5,13],"format":".1f","title":"RG (Å)","titleFontSize":17,"titlePadding":12}},
    "y":{"field":"y","type":"quantitative","bin":{"step":0.2,"extent":[0,4]},"scale":{"domain":[0,4],"nice":false},"axis":{"values":[0,1,2,3,4],"format":"d","title":"RMSD (Å)","titleFontSize":17}},
    "color":{"field":"d","type":"quantitative","scale":{"domain":[0,0.3,0.6,0.85,1,1.25,1.5,1.75,2,2.5,3,3.5,4],"range":["#FFFFFF","#FFE4DC","#FFA898","#FF5538","#FF2200","#E06A00","#AA9A00","#88C400","#44EE10","#8C8CB4","#2A2AF0","#12108C","#0A0020"],"interpolate":"rgb","clamp":true},"legend":{"title":"Density","orient":"right","offset":7,"gradientLength":146,"gradientThickness":12,"titleFontSize":15,"titleFontWeight":"bold","labelFontSize":14,"labelFontWeight":"bold","values":[0,1,2,3,4],"titlePadding":3,"labelOffset":3,"gradientStrokeWidth":0}}
   }},
  {"title":{"text":"ff14IDPSFF","offset":-4},"width":272,"height":175,"data":{"name":"b3"},
   "mark":{"type":"rect"},
   "encoding":{
    "x":{"field":"x","type":"quantitative","bin":{"step":0.05,"extent":[11,13]},"scale":{"domain":[11,13],"nice":false,"zero":false},"axis":{"values":[11,11.5,12,12.5,13],"format":".1f","title":"RG (Å)","titleFontSize":17,"titlePadding":12}},
    "y":{"field":"y","type":"quantitative","bin":{"step":0.2,"extent":[0,4]},"scale":{"domain":[0,4],"nice":false},"axis":{"values":[0,1,2,3,4],"format":"d","title":"RMSD (Å)","titleFontSize":17}},
    "color":{"field":"d","type":"quantitative","scale":{"domain":[0,0.3,0.6,0.85,1,1.25,1.5,1.75,2,2.5,3,3.5,4],"range":["#FFFFFF","#FFE4DC","#FFA898","#FF5538","#FF2200","#E06A00","#AA9A00","#88C400","#44EE10","#8C8CB4","#2A2AF0","#12108C","#0A0020"],"interpolate":"rgb","clamp":true},"legend":{"title":"Density","orient":"right","offset":7,"gradientLength":146,"gradientThickness":12,"titleFontSize":15,"titleFontWeight":"bold","labelFontSize":14,"labelFontWeight":"bold","values":[0,1,2,3,4],"titlePadding":3,"labelOffset":3,"gradientStrokeWidth":0}}
   }}
 ]
}
]
},
{
 "title":{"text":"C","anchor":"start","fontSize":25,"fontStyle":"normal","offset":-10,"dx":-8},
 "spacing":5,
 "resolve":{"scale":{"color":"independent"},"legend":{"color":"independent"}},
 "hconcat":[
  {"title":{"text":"Secondary Chemical Shift","fontSize":21,"fontStyle":"normal","offset":3},
   "width":1030,"height":183,"data":{"name":"cs"},
   "transform":[{"fold":["e","b","i","f"],"as":["s","v"]}],
   "encoding":{
    "x":{"field":"r","type":"quantitative","scale":{"domain":[1.57,75.57],"nice":false,"zero":false},"axis":{"values":[2,4,6,8,10,12,14,16,18,20,22,24,26,28,30,32,34,36,38,40,42,44,46,48,50,52,54,56,58,60,62,64,66,68,70,72,74],"labelAngle":-45,"labelFontSize":13,"tickSize":4,"title":null,"labelExpr":"substring('--Q-F-K-L-G-T-T-E-E-S-T-E-V-A-I-D-E-I-P-Q-R-I-A-K-L-D-R-L-D-N-Q-E-T-H-V-R-R', datum.value, datum.value + 1) + datum.value"}},
    "y":{"field":"v","type":"quantitative","scale":{"domain":[-4.69,6.75],"nice":false,"zero":false},"axis":{"values":[-4,-2,0,2,4,6],"title":"δCA (ppm)","titleFontSize":17}}
   },
   "layer":[
    {"mark":{"type":"line","strokeWidth":3},"encoding":{"color":{"field":"s","type":"nominal","scale":{"domain":["e","f","i","b"],"range":["#F8766D","#7CAE00","#00BFC4","#C77CFF"]},"legend":null}}},
    {"mark":{"type":"circle","size":30,"color":"#000000","opacity":1}}
   ]},
  {"width":110,"height":183,"view":{"stroke":null},
   "layer":[
    {"data":{"name":"cs"},"transform":[{"fold":["e","f","i","b"],"as":["s","v"]}],"mark":{"type":"point","opacity":0},
     "encoding":{"color":{"field":"s","type":"nominal","scale":{"domain":["e","f","i","b"],"range":["#F8766D","#7CAE00","#00BFC4","#C77CFF"]},"legend":{"title":null,"orient":"none","legendX":-2,"legendY":10,"symbolType":"stroke","symbolSize":280,"symbolStrokeWidth":4,"symbolOpacity":1,"labelFontSize":14,"labelFontWeight":"bold","labelFontStyle":"italic","rowPadding":0,"clipHeight":18.5,"labelOffset":3,"labelExpr":"datum.label == 'e' ? 'Exp.' : datum.label == 'f' ? 'ff14IDPSFF' : datum.label == 'i' ? 'ff14IDPs' : 'ff14SB'"}}}},
    {"data":{"name":"rm"},"transform":[{"filter":"datum.v == ''"}],"mark":{"type":"text","align":"left","baseline":"middle","fontSize":13,"fontWeight":"bold","color":"#111111"},
     "encoding":{"x":{"datum":0,"type":"quantitative","scale":{"domain":[0,1]},"axis":null},"y":{"field":"m","type":"ordinal","scale":{"type":"point","domain":["RMSD","ff14SB:","ff14IDPs:","ff14IDPSFF:"],"range":[125,173],"padding":0},"axis":null},"text":{"field":"m"}}},
    {"data":{"name":"rm"},"transform":[{"filter":"datum.v != ''"}],"mark":{"type":"text","align":"left","baseline":"middle","fontSize":13,"fontWeight":"bold","fontStyle":"italic","color":"#111111"},
     "encoding":{"x":{"datum":0,"type":"quantitative"},"y":{"field":"m","type":"ordinal"},"text":{"field":"m"}}},
    {"data":{"name":"rm"},"transform":[{"filter":"datum.v != ''"}],"mark":{"type":"text","align":"right","baseline":"middle","fontSize":13,"fontWeight":"bold","color":"#111111"},
     "encoding":{"x":{"datum":1,"type":"quantitative"},"y":{"field":"m","type":"ordinal"},"text":{"field":"v"}}}
   ]}
 ]
}
]
}
